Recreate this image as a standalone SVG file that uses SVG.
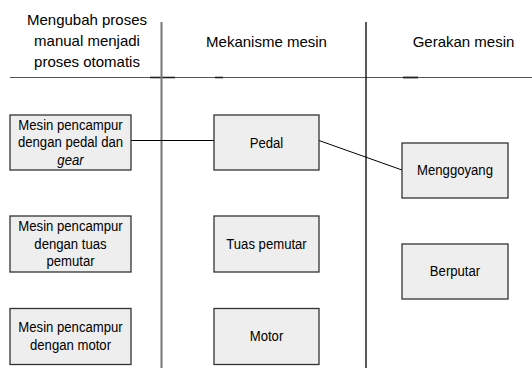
<svg xmlns="http://www.w3.org/2000/svg" width="532" height="368" viewBox="0 0 532 368">
<style>
text{font-family:"Liberation Sans",Arial,sans-serif;fill:#000;text-anchor:middle}
.h{font-size:15px}
.t{font-size:14.6px}
.box{fill:#eeeeee;stroke:#333;stroke-width:1.3}
.conn{stroke:#000;stroke-width:1;fill:none}
</style>
<g id="grid">
<line x1="10" y1="77.5" x2="532" y2="77.5" stroke="#555" stroke-width="1.2"/>
<line x1="150" y1="77.5" x2="175" y2="77.5" stroke="#222" stroke-width="1.6"/>
<line x1="215" y1="77.5" x2="223" y2="77.5" stroke="#222" stroke-width="1.6"/>
<line x1="403" y1="77.5" x2="418" y2="77.5" stroke="#222" stroke-width="1.8"/>
<line x1="161.5" y1="22" x2="161.5" y2="368" stroke="#777" stroke-width="2"/>
<line x1="366" y1="22" x2="366" y2="368" stroke="#000" stroke-width="1.3"/>
</g>
<g id="headers">
<text class="h" x="87" y="25">Mengubah proses</text>
<text class="h" x="87" y="46">manual menjadi</text>
<text class="h" x="87" y="67">proses otomatis</text>
<text class="h" x="266.5" y="47">Mekanisme mesin</text>
<text class="h" x="463.5" y="47">Gerakan mesin</text>
</g>
<g id="connectors">
<line class="conn" x1="131" y1="140.5" x2="214" y2="140.5"/>
<line class="conn" x1="319" y1="140.5" x2="402" y2="170"/>
</g>
<g id="n1">
<rect class="box" x="10" y="115" width="121" height="55"/>
<text class="t" transform="matrix(0.9,0,0,1,70.5,129.5)">Mesin pencampur</text>
<text class="t" transform="matrix(0.9,0,0,1,70.5,147)">dengan pedal dan</text>
<text class="t" transform="matrix(0.9,0,0,1,70.5,164.5)" font-style="italic">gear</text>
</g>
<g id="n2">
<rect class="box" x="10" y="216" width="121" height="56"/>
<text class="t" transform="matrix(0.9,0,0,1,70.5,231)">Mesin pencampur</text>
<text class="t" transform="matrix(0.9,0,0,1,70.5,248.5)">dengan tuas</text>
<text class="t" transform="matrix(0.9,0,0,1,70.5,266)">pemutar</text>
</g>
<g id="n3">
<rect class="box" x="10" y="308.5" width="121" height="56"/>
<text class="t" transform="matrix(0.9,0,0,1,70.5,332)">Mesin pencampur</text>
<text class="t" transform="matrix(0.9,0,0,1,70.5,349.5)">dengan motor</text>
</g>
<g id="n4">
<rect class="box" x="214" y="115" width="105" height="55"/>
<text class="t" transform="matrix(0.9,0,0,1,266.5,147.5)">Pedal</text>
</g>
<g id="n5">
<rect class="box" x="214" y="216" width="105" height="56"/>
<text class="t" transform="matrix(0.9,0,0,1,266.5,249)">Tuas pemutar</text>
</g>
<g id="n6">
<rect class="box" x="214" y="308.5" width="105" height="56"/>
<text class="t" transform="matrix(0.9,0,0,1,266.5,341)">Motor</text>
</g>
<g id="n7">
<rect class="box" x="402" y="143" width="106" height="55"/>
<text class="t" transform="matrix(0.9,0,0,1,455,175)">Menggoyang</text>
</g>
<g id="n8">
<rect class="box" x="402" y="244" width="106" height="55"/>
<text class="t" transform="matrix(0.9,0,0,1,455,276)">Berputar</text>
</g>
</svg>
